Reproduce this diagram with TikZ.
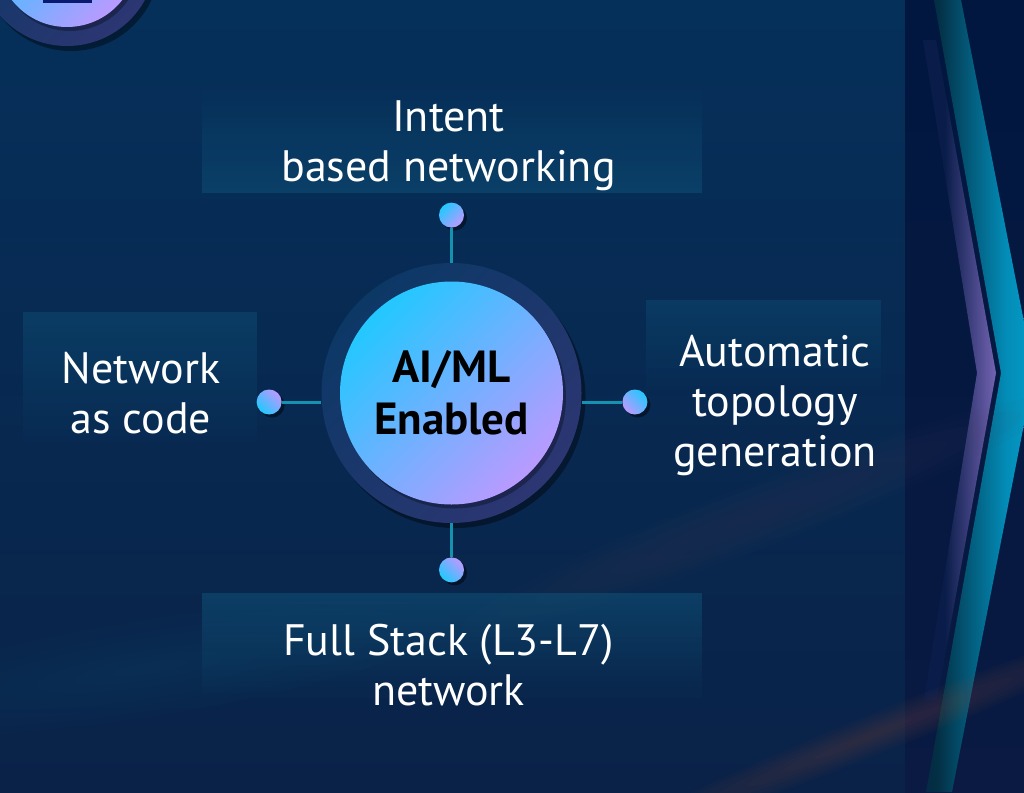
\documentclass[tikz,border=0pt]{standalone}
\usepackage{fontspec}
\setmainfont{PT Sans}
\usetikzlibrary{positioning,shadows}

\definecolor{paneltop}{HTML}{05305A}
\definecolor{panelmid}{HTML}{021C44}
\definecolor{panelbot}{HTML}{0A2248}
\definecolor{striptop}{HTML}{01173F}
\definecolor{stripbot}{HTML}{0A1A42}
\definecolor{ringtop}{HTML}{0C3866}
\definecolor{ringbot}{HTML}{2C3672}
\definecolor{aicyan}{HTML}{22C8FF}
\definecolor{aipurple}{HTML}{BA9AFF}
\definecolor{linkteal}{HTML}{1592B0}
\definecolor{chevdark}{HTML}{0A1D4A}
\definecolor{chevcyan}{HTML}{00BCE6}
\definecolor{chevpurple}{HTML}{B892F8}
\definecolor{iconblue}{HTML}{0A1A6E}
\definecolor{streakgrey}{HTML}{4A4560}
\definecolor{streakrust}{HTML}{8A5040}
\definecolor{streakteal}{HTML}{1A4C72}
\definecolor{tilewash}{HTML}{10587E}

\pgfdeclarehorizontalshading{cyanchev}{100bp}{color(0bp)=(chevdark); color(30bp)=(chevdark!60!chevcyan!50!black); color(62bp)=(chevdark!30!chevcyan); color(100bp)=(chevcyan)}
\pgfdeclarehorizontalshading{purplechev}{100bp}{color(0bp)=(chevdark); color(40bp)=(chevdark); color(72bp)=(chevdark!45!chevpurple); color(100bp)=(chevpurple)}

% translucent label tile: x1,y1,x2,y2, opacity at top, opacity at bottom
\newcommand{\washbox}[6]{%
  \foreach \s in {0,...,19}{
    \pgfmathsetmacro{\op}{#5+(#6-#5)*(\s+0.5)/20}
    \fill[tilewash, opacity=\op] (#1,{#2+(#4-#2)*\s/20}) rectangle (#3,{#2+(#4-#2)*(\s+1)/20});
  }}

\tikzset{
  lbl/.style={text=white, align=center, inner sep=0pt, font=\fontsize{44}{50}\selectfont},
  ring/.style={circle, inner sep=0pt, top color=ringtop, bottom color=ringbot, shading angle=45,
    drop shadow={shadow xshift=4pt, shadow yshift=-5pt, opacity=.4, fill=black}},
  core/.style={circle, inner sep=0pt, top color=aicyan, bottom color=aipurple, shading angle=45,
    drop shadow={shadow xshift=3pt, shadow yshift=-4pt, opacity=.3, fill=black}},
  hubdot/.style={circle, minimum size=25pt, inner sep=0pt, top color=aicyan, bottom color=aipurple,
    shading angle=#1, drop shadow={shadow xshift=3pt, shadow yshift=-3pt, opacity=.45, fill=black}},
  link/.style={draw=linkteal, line width=3pt},
}

\begin{document}
\begin{tikzpicture}[x=1pt, y=-1pt]
  \useasboundingbox (0,0) rectangle (1024,792);
  \clip (0,0) rectangle (1024,792);
  % backdrop
  \shade[top color=paneltop, middle color=panelmid, bottom color=panelbot] (0,0) rectangle (905,792);
  \shade[top color=striptop, bottom color=stripbot] (905,0) rectangle (1024,792);
  \shade[shading=cyanchev]
    (934,0) -- (1001,373) -- (926,792) -- (952,792) -- (1034,373) -- (961,0) -- cycle;
  \shade[shading=purplechev]
    (923,40) -- (977,373) -- (924,700) -- (937,700) -- (996,373) -- (936,40) -- cycle;
  % soft streaks
  \foreach \k in {1,...,8} {
    \fill[streakteal, opacity=.05, rotate around={9:(150,668)}] (150,668) ellipse [x radius=38*\k, y radius=6*\k];
    \fill[streakgrey, opacity=.035, rotate around={21:(760,515)}] (760,515) ellipse [x radius=40*\k, y radius=4*\k];
    \fill[streakrust, opacity=.04, rotate around={22:(880,732)}] (880,732) ellipse [x radius=36*\k, y radius=2.5*\k];
  }

  % badge cut off at the top
  \node[ring, minimum size=178pt] (badge) at (67,-43) {};
  \node[core, minimum size=140pt] (badgecore) at (badge) {};
  \fill[iconblue] (43,0) rectangle (92,3);

  % label tiles
  \washbox{202}{85}{702}{193}{0}{.45}
  \washbox{202}{593}{702}{703}{.5}{0}
  \washbox{23}{312}{257}{442}{.4}{.04}
  \washbox{646}{300}{881}{390}{.35}{.03}

  % hub
  \node[ring, minimum size=260pt] (hub) at (451.5,393) {};
  \node[core, minimum size=223pt, align=center, font=\bfseries\fontsize{45}{52}\selectfont] (ai) at (hub) {AI/ML\\Enabled};

  \node[hubdot=45, above=35pt of hub] (dtop) {};
  \node[hubdot=135, below=34pt of hub] (dbot) {};
  \node[hubdot=135, left=39.5pt of hub, yshift=-9pt] (dleft) {};
  \node[hubdot=-45, right=40.5pt of hub, yshift=-9pt] (dright) {};

  \draw[link] (dtop) -- (hub);
  \draw[link] (dbot) -- (hub);
  \draw[link] (dleft) -- (dleft -| hub.west);
  \draw[link] (dright) -- (dright -| hub.east);

  \node[lbl] (lbltop) at (448.5,145.5) {Intent\\based networking};
  \node[lbl] (lblbot) at (448.5,665.5) {Full Stack (L3-L7)\\network};
  \node[lbl] (lblleft) at (141,393) {Network\\as code};
  \node[lbl] (lblright) at (775,406) {Automatic\\topology\\generation};
\end{tikzpicture}
\end{document}
